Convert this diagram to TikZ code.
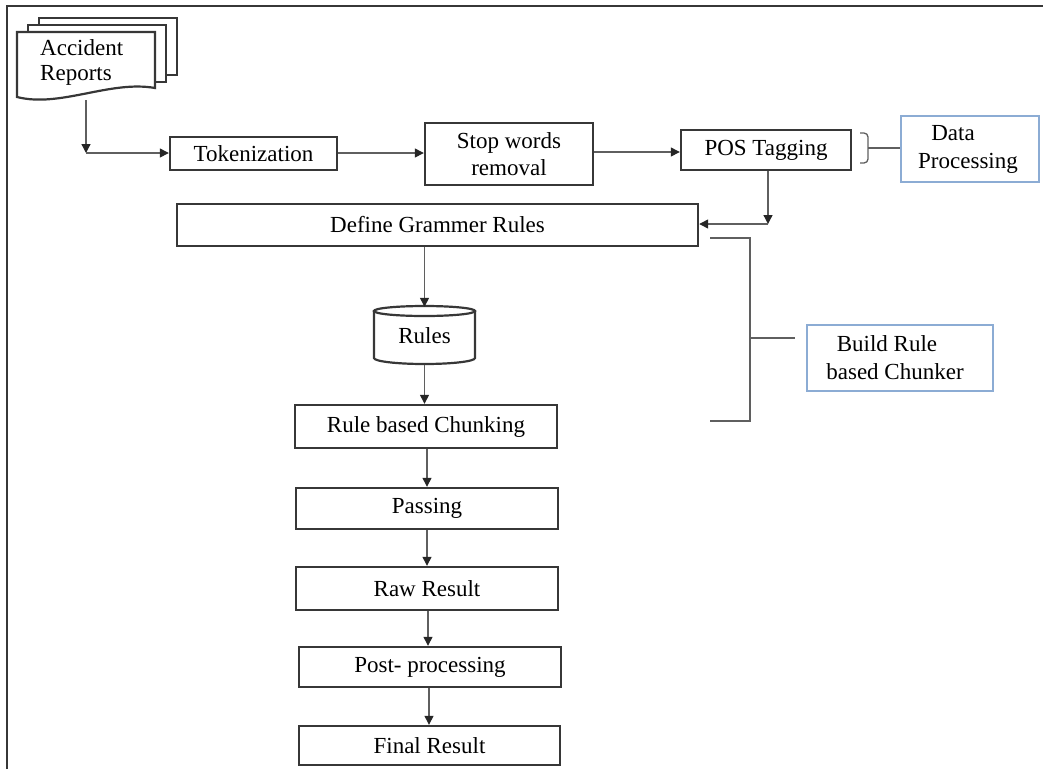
\documentclass[tikz,border=0pt]{standalone}
\usepackage{fontspec}
\setmainfont{Liberation Serif}
\usetikzlibrary{arrows.meta}
\definecolor{boxline}{RGB}{55,55,55}
\definecolor{arrline}{RGB}{95,95,95}
\definecolor{blueline}{RGB}{140,172,212}
\tikzset{
  procbox/.style={draw=boxline, line width=2.4pt, rectangle, inner sep=0pt, align=center,
    font=\fontsize{23}{27}\selectfont},
  bluebox/.style={draw=blueline, line width=1.5pt, rectangle, inner sep=0pt, align=center,
    font=\fontsize{23}{28}\selectfont},
  arr/.style={draw=arrline, line width=1.3pt, -{Triangle[width=9pt,length=9pt,color=black!85]}},
  brk/.style={draw=arrline, line width=1.3pt},
  page/.style={draw=boxline, line width=2.2pt, fill=white},
}
\begin{document}
\begin{tikzpicture}[x=1pt,y=-1pt]
\useasboundingbox (0,0) rectangle (1043,769);
% frame
\draw[boxline, line width=2.5pt] (7,769) -- (7,6) -- (1043,6);

% document stack
\draw[page] (39,18) rectangle (177,75);
\draw[page] (28,25) rectangle (166,82);
\draw[page] (17,97) -- (17,32) -- (155,32) -- (155,88) .. controls (110,80) and (60,108) .. (17,97) -- cycle;
\node[font=\fontsize{23}{25}\selectfont, align=left, anchor=west, inner sep=0pt] (doctext) at (40,62) {Accident\\Reports};
\node[inner sep=0pt, minimum width=138pt, minimum height=68pt] (doc) at (86,66) {};

% top row
\node[procbox, minimum width=167pt, minimum height=33pt] (tok) at (253.5,153.5) {Tokenization};
\node[procbox, minimum width=168pt, minimum height=62pt] (stop) at (509,154) {Stop words\\removal};
\node[procbox, minimum width=170pt, minimum height=40pt] (pos) at (766,150) {POS Tagging};
\node[bluebox, minimum width=138pt, minimum height=66pt] (dp) at (970,149) {\hspace*{-34pt}Data\\\hspace*{-4pt}Processing};

% define grammar rules
\node[procbox, minimum width=521pt, minimum height=42pt] (def) at (437.5,225) {Define Grammer Rules};

% rules cylinder
\node[inner sep=0pt, minimum width=101pt, minimum height=58pt, font=\fontsize{23}{27}\selectfont] (rules) at (424.5,336) {Rules};
\draw[boxline, line width=2.2pt] (374,311) -- (374,358) arc[start angle=180, end angle=360, x radius=50.5pt, y radius=6pt] -- (475,311);
\draw[boxline, line width=2.2pt] (424.5,311) ellipse[x radius=50.5pt, y radius=5pt];

% vertical chain
\node[procbox, minimum width=262pt, minimum height=43pt] (rbc) at (426,426.5) {Rule based Chunking};
\node[procbox, minimum width=262pt, minimum height=41pt] (pass) at (427,508.5) {Passing};
\node[procbox, minimum width=262pt, minimum height=43pt] (raw) at (427,588.5) {Raw Result};
\node[procbox, minimum width=262pt, minimum height=40pt] (post) at (430,667) {Post- processing};
\node[procbox, minimum width=261pt, minimum height=39pt] (final) at (429.5,745.5) {Final Result};

% build rule box
\node[bluebox, minimum width=186pt, minimum height=66pt] (brc) at (900,358) {\hspace*{-26pt}Build Rule\\\hspace*{-10pt}based Chunker};

% connectors
\coordinate (c1) at (86,153);
\draw[arr] (doc.south) -- (c1);
\draw[arr] (c1) -- (tok.west |- c1);
\draw[arr] (tok.east |- 0,153) -- (stop.west |- 0,153);
\draw[arr] (stop.east |- 0,152) -- (pos.west |- 0,152);
\coordinate (c2) at (768,224);
\draw[arr] (pos.south -| c2) -- (c2);
\draw[arr] (c2) -- (def.east |- c2);
\draw[arr] (def.south -| 424.5,0) -- (rules.north);
\draw[arr] (rules.south |- 0,365) -- (rules.south |- rbc.north);
\draw[arr] (rbc.south -| 427,0) -- (pass.north -| 427,0);
\draw[arr] (pass.south -| 427,0) -- (raw.north -| 427,0);
\draw[arr] (raw.south -| 428,0) -- (post.north -| 428,0);
\draw[arr] (post.south -| 429,0) -- (final.north -| 429,0);

% brackets
\draw[brk] (860,133) -- (864,133) arc[start angle=90, end angle=0, radius=4pt] -- (868,159) arc[start angle=0, end angle=-90, radius=4pt] -- (860,163);
\draw[brk] (868,148) -- (dp.west |- 0,148);
\draw[brk] (710,238) -- (750,238) -- (750,421) -- (710,421);
\draw[brk] (750,338) -- (795,338);
\end{tikzpicture}
\end{document}
